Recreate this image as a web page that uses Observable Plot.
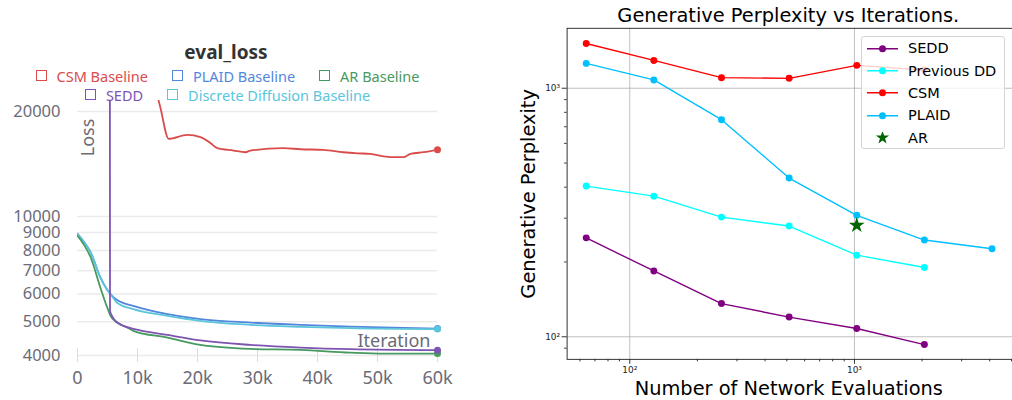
<!DOCTYPE html>
<html><head><meta charset="utf-8">
<script src="https://cdn.jsdelivr.net/npm/d3@7"></script>
<script src="https://cdn.jsdelivr.net/npm/@observablehq/plot@0.6"></script>
<style>
html,body{margin:0;padding:0;background:#fff;}
#wrap{position:relative;width:1012px;height:400px;overflow:hidden;background:#fff;}
#left{position:absolute;left:0;top:0;}
#right{position:absolute;left:500px;top:0;}
#ltitle{position:absolute;left:0;width:452px;top:43px;text-align:center;font:700 19px "Noto Sans";line-height:1;color:#333;}
.lrow{position:absolute;left:0;width:455px;display:flex;justify-content:center;gap:24px;font:14.5px "Noto Sans";line-height:1;}
.litem{display:flex;align-items:center;}
.sq{width:11px;height:11px;border:1.5px solid;box-sizing:border-box;margin-right:10px;}
#rleg{position:absolute;left:861px;top:36px;width:144px;height:113px;box-sizing:border-box;border:1px solid #d5d5d5;border-radius:3px;background:rgba(255,255,255,0.8);font:14.5px "DejaVu Sans";line-height:1;color:#000;}
.ritem{position:absolute;left:4px;display:flex;align-items:center;transform:translateY(-50%);}
.ritem svg{margin-right:9px;}
</style></head>
<body>
<div id="wrap">
  <div id="left"></div>
  <div id="ltitle">eval_loss</div>
  <div class="lrow" id="row1" style="top:68.6px"></div>
  <div class="lrow" id="row2" style="top:87.6px"></div>
  <div id="right"></div>
  <div id="rleg"></div>
</div>
<script>
// ---------- Left panel: eval_loss (wandb) ----------
const lossYTicks = [4000, 5000, 6000, 7000, 8000, 9000, 10000, 20000];
const lossXTicks = [0, 10, 20, 30, 40, 50, 60]; // thousands of iterations

const csmIter = [13.3, 13.8, 15.2, 18.3, 20.5, 22.2, 23.3, 26, 28, 28.8, 34.3, 37.2, 41, 44.3, 46.7, 48.8, 51, 53.3, 54.3, 55.5, 57.7, 60];
const csmLoss = [22230, 20570, 16700, 17145, 16880, 16220, 15695, 15455, 15285, 15455, 15695, 15590, 15530, 15285, 15180, 15120, 14880, 14790, 14790, 15120, 15285, 15530];

const plaidIter = [0, 1.0, 2.2, 3.8, 4.95, 5.5, 6.6, 9.3, 15, 20.5, 28.8, 37.2, 45.5, 60];
const plaidLoss = [8930, 8500, 7900, 6692, 6170, 5998, 5764, 5551, 5254, 5084, 4971, 4896, 4842, 4777];

const ddIter = [0, 1.0, 2.2, 3.8, 4.95, 5.5, 6.6, 9.3, 15, 20.5, 28.8, 37.2, 45.5, 60];
const ddLoss = [8930, 8500, 7900, 6692, 6170, 5998, 5662, 5431, 5195, 5026, 4896, 4832, 4790, 4760];

const arIter = [0, 1.0, 2.2, 3.8, 4.95, 5.5, 6.6, 8.3, 9.3, 15, 20.5, 28.8, 37.2, 45.5, 51, 60];
const arLoss = [8815, 8342, 7635, 6266, 5489, 5195, 4971, 4809, 4707, 4501, 4290, 4178, 4150, 4077, 4051, 4051];

const seddIter = [5.38, 5.42, 5.83, 6.33, 7.67, 9.33, 15, 20.5, 28.8, 37.2, 45.5, 60];
const seddLoss = [60000, 5370, 5162, 5027, 4864, 4769, 4581, 4419, 4290, 4214, 4169, 4142];

const lossSeries = [
  {name: "CSM Baseline", color: "#DA4C4C", it: csmIter, v: csmLoss},
  {name: "PLAID Baseline", color: "#5387DD", it: plaidIter, v: plaidLoss},
  {name: "Discrete Diffusion Baseline", color: "#5BC5DB", it: ddIter, v: ddLoss},
  {name: "AR Baseline", color: "#479A5F", it: arIter, v: arLoss},
  {name: "SEDD", color: "#7D54B2", it: seddIter, v: seddLoss}
];
const legendRow1 = ["CSM Baseline", "PLAID Baseline", "AR Baseline"];
const legendRow2 = ["SEDD", "Discrete Diffusion Baseline"];

const lossMarks = [
  Plot.gridY(lossYTicks, {stroke: "#ebebeb", strokeOpacity: 1, strokeWidth: 1.5}),
  Plot.axisY(lossYTicks, {tickSize: 0, tickPadding: 17, tickFormat: d3.format("d"), fill: "#6b6b76", fontSize: 16.5, label: null}),
  Plot.axisX(lossXTicks, {tickSize: 14, dy: -7, tickFormat: () => "", stroke: "#dcdcdc", label: null}),
  Plot.axisX(lossXTicks, {tickSize: 0, tickPadding: 16, tickFormat: d => d === 0 ? "0" : d + "k", fill: "#6b6b76", fontSize: 18, label: null}),
  Plot.text(["Loss"], {frameAnchor: "top-left", dx: 11, dy: 37, rotate: -90, textAnchor: "middle", lineAnchor: "middle", fill: "#6b6b76", fontSize: 18}),
  Plot.text(["Iteration"], {frameAnchor: "bottom-right", dx: -7, dy: -14, textAnchor: "end", lineAnchor: "middle", fill: "#6b6b76", fontSize: 18})
];
for (const s of lossSeries) {
  const rows = s.it.map((it, i) => ({it, v: s.v[i]}));
  lossMarks.push(Plot.line(rows, {x: "it", y: "v", stroke: s.color, strokeWidth: 1.8, clip: true, curve: "monotone-x"}));
  lossMarks.push(Plot.dot(rows.slice(-1), {x: "it", y: "v", fill: s.color, r: 3.5}));
}
const leftChart = Plot.plot({
  width: 460, height: 400,
  marginTop: 100, marginBottom: 45, marginLeft: 77, marginRight: 23,
  style: {fontFamily: "Noto Sans", fontSize: "18px", background: "transparent", color: "#6b6b76"},
  x: {domain: [0, 60]},
  y: {type: "log", domain: [4000, 21500]},
  marks: lossMarks
});
document.getElementById("left").appendChild(leftChart);

function fillRow(id, names) {
  const row = document.getElementById(id);
  for (const n of names) {
    const s = lossSeries.find(d => d.name === n);
    const item = document.createElement("div");
    item.className = "litem";
    item.style.color = s.color;
    const sq = document.createElement("div");
    sq.className = "sq";
    sq.style.borderColor = s.color;
    item.appendChild(sq);
    item.appendChild(document.createTextNode(n));
    row.appendChild(item);
  }
}
fillRow("row1", legendRow1);
fillRow("row2", legendRow2);

// ---------- Right panel: Generative Perplexity ----------
const nfe = [64, 128, 256, 512, 1024, 2048, 4096];
const seddPpl = [250, 184, 136, 120, 108, 93];
const prevDDPpl = [404, 368, 303, 279, 213, 190];
const csmPpl = [1514, 1294, 1103, 1096, 1236, 1183];
const plaidPpl = [1259, 1080, 747, 435, 308, 245, 226];
const arNfe = [1024];
const arPpl = [281];

const pplSeries = [
  {name: "SEDD", color: "#800080", v: seddPpl},
  {name: "Previous DD", color: "#00FFFF", v: prevDDPpl},
  {name: "CSM", color: "#FF0000", v: csmPpl},
  {name: "PLAID", color: "#00BFFF", v: plaidPpl}
];
const majorTicks = [100, 1000];
const minorX = [60, 70, 80, 90, 200, 300, 400, 500, 600, 700, 800, 900, 2000, 3000, 4000, 5000];
const minorY = [90, 200, 300, 400, 500, 600, 700, 800, 900];
const sup = d => d === 100 ? "10²" : "10³";

const pplMarks = [
  Plot.gridX(majorTicks, {stroke: "#b0b0b0", strokeOpacity: 1, strokeWidth: 0.8}),
  Plot.gridY(majorTicks, {stroke: "#b0b0b0", strokeOpacity: 1, strokeWidth: 0.8}),
  Plot.axisX(majorTicks, {tickSize: 5, tickPadding: 2, tickFormat: sup, label: null, fontSize: 9, stroke: "#333"}),
  Plot.axisX(minorX, {tickSize: 2.5, tickFormat: () => "", label: null, stroke: "#333"}),
  Plot.axisY(majorTicks, {tickSize: 5, tickPadding: 2, tickFormat: sup, label: null, fontSize: 9, stroke: "#333"}),
  Plot.axisY(minorY, {tickSize: 2.5, tickFormat: () => "", label: null, stroke: "#333"}),
  Plot.frame({stroke: "#333", strokeWidth: 1}),
  Plot.text(["Generative Perplexity vs Iterations."], {frameAnchor: "top", dx: -1.5, dy: -6, lineAnchor: "bottom", fontSize: 19.5, fill: "#000"}),
  Plot.text(["Number of Network Evaluations"], {frameAnchor: "bottom", dx: -1, dy: 35.5, lineAnchor: "bottom", fontSize: 19.5, fill: "#000"}),
  Plot.text(["Generative Perplexity"], {frameAnchor: "left", dx: -32, rotate: -90, textAnchor: "middle", lineAnchor: "bottom", fontSize: 19.5, fill: "#000"})
];
for (const s of pplSeries) {
  const rows = s.v.map((v, i) => ({n: nfe[i], v}));
  pplMarks.push(Plot.line(rows, {x: "n", y: "v", stroke: s.color, strokeWidth: 1.4}));
  pplMarks.push(Plot.dot(rows, {x: "n", y: "v", fill: s.color, r: 3.5}));
}
pplMarks.push(Plot.dot(arNfe.map((n, i) => ({n, v: arPpl[i]})), {x: "n", y: "v", symbol: "star", fill: "#006400", r: 5}));

const rightChart = Plot.plot({
  width: 515, height: 400,
  marginLeft: 67, marginRight: 0, marginTop: 28, marginBottom: 39,
  style: {fontFamily: "DejaVu Sans", fontSize: "9px", background: "transparent", color: "#222", overflow: "visible"},
  x: {type: "log", domain: [52.62, 5052]},
  y: {type: "log", domain: [81.1, 1742]},
  marks: pplMarks
});
document.getElementById("right").appendChild(rightChart);

// right legend
const leg = document.getElementById("rleg");
const legItems = [...pplSeries.map(s => ({name: s.name, color: s.color, star: false})), {name: "AR", color: "#006400", star: true}];
const starPath = d3.symbol(d3.symbolStar, 55)();
legItems.forEach((it, i) => {
  const el = document.createElement("div");
  el.className = "ritem";
  el.style.top = (11.3 + i * 22.35) + "px";
  const swatch = it.star
    ? `<svg width="33" height="12"><path d="${starPath}" transform="translate(16.5,6)" fill="${it.color}"/></svg>`
    : `<svg width="33" height="12"><line x1="1" x2="32" y1="6" y2="6" stroke="${it.color}" stroke-width="1.6"/><circle cx="16.5" cy="6" r="3.5" fill="${it.color}"/></svg>`;
  el.innerHTML = swatch + `<span>${it.name}</span>`;
  leg.appendChild(el);
});
</script>
</body></html>
